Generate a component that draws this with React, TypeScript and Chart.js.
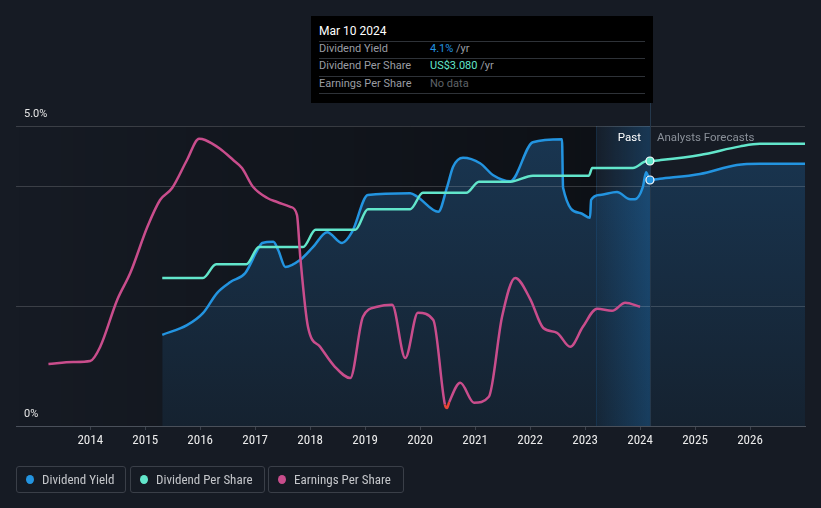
import React, { useEffect, useRef } from "react";
import { Chart, registerables } from "chart.js";

Chart.register(...registerables);

// ---------- data ----------
const tickYears = [2014, 2015, 2016, 2017, 2018, 2019, 2020, 2021, 2022, 2023, 2024, 2025, 2026];

const yieldYears = [2015.31, 2015.76, 2016.05, 2016.31, 2016.55, 2016.82, 2017.04, 2017.13, 2017.33, 2017.42, 2017.55, 2017.82, 2018.05, 2018.31, 2018.58, 2018.76, 2019.05, 2019.82, 2019.95, 2020.33, 2020.49, 2020.6, 2020.78, 2021.09, 2021.33, 2021.64, 2022.05, 2022.58, 2022.6, 2022.91, 2023.09, 2023.11, 2023.27, 2023.58, 2023.82, 2023.91, 2024.05, 2024.11, 2024.18, 2024.36, 2025.09, 2025.76, 2026.18, 2027.0];
const yieldValues = [1.52, 1.68, 1.88, 2.22, 2.40, 2.55, 2.93, 3.05, 3.07, 2.93, 2.65, 2.77, 2.98, 3.23, 3.05, 3.23, 3.85, 3.88, 3.82, 3.57, 3.98, 4.32, 4.47, 4.38, 4.18, 4.08, 4.73, 4.78, 3.97, 3.55, 3.47, 3.77, 3.85, 3.9, 3.78, 3.78, 3.98, 4.23, 4.1, 4.12, 4.2, 4.35, 4.37, 4.37];

const dpsYears = [2015.31, 2016.05, 2016.29, 2016.84, 2017.07, 2017.87, 2018.1, 2018.82, 2019.05, 2019.82, 2020.05, 2020.84, 2021.07, 2021.64, 2022.05, 2023.07, 2023.13, 2023.87, 2024.13, 2024.18, 2024.36, 2025.09, 2025.82, 2026.18, 2027.0];
const dpsValues = [1.72, 1.72, 1.88, 1.88, 2.08, 2.08, 2.28, 2.28, 2.52, 2.52, 2.71, 2.71, 2.84, 2.84, 2.91, 2.91, 3.0, 3.0, 3.08, 3.08, 3.09, 3.15, 3.25, 3.28, 3.28];

const epsYears = [2013.24, 2013.69, 2014.0, 2014.18, 2014.49, 2014.73, 2015.04, 2015.27, 2015.49, 2015.76, 2015.98, 2016.09, 2016.36, 2016.6, 2016.76, 2016.96, 2017.22, 2017.4, 2017.64, 2017.76, 2017.82, 2017.96, 2018.18, 2018.45, 2018.73, 2018.96, 2019.22, 2019.49, 2019.73, 2019.96, 2020.24, 2020.45, 2020.49, 2020.53, 2020.73, 2020.98, 2021.25, 2021.49, 2021.73, 2022.0, 2022.24, 2022.49, 2022.73, 2022.96, 2023.22, 2023.49, 2023.73, 2024.0];
const epsValues = [1.05, 1.1, 1.125, 1.475, 2.65, 3.33, 4.48, 5.15, 5.45, 6.15, 6.68, 6.65, 6.43, 6.15, 5.95, 5.48, 5.2, 5.1, 4.98, 4.78, 3.73, 1.98, 1.48, 0.98, 0.7, 2.23, 2.48, 2.53, 1.2, 2.33, 2.15, 0.04, -0.05, 0.1, 0.58, 0.08, 0.23, 2.23, 3.2, 2.68, 1.95, 1.83, 1.48, 1.98, 2.43, 2.38, 2.58, 2.48];

const nowYear = 2024.18;
const pastBandStart = 2023.2;
const yieldGridValues = [5, 4, 2];

// ---------- styles ----------
const BG = "#161b24";
const BLUE = "#2394e0";
const TEAL = "#62e6cb";
const PINK = "#c94d8c";
const RED = "#e8443a";
const NARROW = '"Liberation Sans Narrow", "Roboto Condensed", Roboto, sans-serif';
const SANS = 'Roboto, "Noto Sans", sans-serif';

const bgPlugin = {
  id: "bgPlugin",
  beforeDatasetsDraw(chart: any) {
    const { ctx, chartArea, scales } = chart;
    const { left, top, bottom } = chartArea;
    const xb = scales.x.getPixelForValue(pastBandStart);
    ctx.save();
    const g = ctx.createLinearGradient(left, 0, xb, 0);
    g.addColorStop(0, "rgba(0,0,0,0)");
    g.addColorStop(1, "rgba(0,0,0,0.38)");
    ctx.fillStyle = g;
    ctx.fillRect(left, top, xb - left, bottom - top);
    ctx.restore();
  },
  beforeDatasetDraw(chart: any, args: any) {
    if (args.index !== 0) return;
    const { ctx, chartArea, scales } = chart;
    const { left, right, top, bottom } = chartArea;
    const xb = scales.x.getPixelForValue(pastBandStart);
    const xn = scales.x.getPixelForValue(nowYear);
    ctx.save();
    const g = ctx.createLinearGradient(xb, 0, xn, 0);
    g.addColorStop(0, "rgba(33,150,243,0.03)");
    g.addColorStop(1, "rgba(33,150,243,0.24)");
    ctx.fillStyle = g;
    ctx.fillRect(xb, top, xn - xb, bottom - top);
    ctx.strokeStyle = "rgba(33,150,243,0.12)";
    ctx.lineWidth = 1;
    ctx.beginPath();
    ctx.moveTo(Math.round(xb) + 0.5, top);
    ctx.lineTo(Math.round(xb) + 0.5, bottom);
    ctx.stroke();
    // gridlines
    ctx.strokeStyle = "rgba(255,255,255,0.16)";
    for (const v of yieldGridValues) {
      const y = Math.round(scales.yYield.getPixelForValue(v)) + 0.5;
      ctx.beginPath();
      ctx.moveTo(left, y);
      ctx.lineTo(right, y);
      ctx.stroke();
    }
    // now line
    ctx.strokeStyle = "#24384c";
    ctx.beginPath();
    ctx.moveTo(Math.round(xn) + 0.5, 103);
    ctx.lineTo(Math.round(xn) + 0.5, bottom);
    ctx.stroke();
    ctx.restore();
  },
  afterDatasetsDraw(chart: any) {
    const { ctx, chartArea, scales } = chart;
    const { left } = chartArea;
    const xn = scales.x.getPixelForValue(nowYear);
    ctx.save();
    ctx.font = "11px " + SANS;
    ctx.textBaseline = "middle";
    ctx.fillStyle = "#e6e6e6";
    ctx.textAlign = "left";
    ctx.fillText("5.0%", left + 8, scales.yYield.getPixelForValue(5) - 12);
    ctx.fillText("0%", left + 8, scales.yYield.getPixelForValue(0) - 12);
    ctx.font = "11.5px " + SANS;
    ctx.textAlign = "right";
    ctx.fillStyle = "#ffffff";
    ctx.fillText("Past", xn - 9, 138);
    ctx.textAlign = "left";
    ctx.fillStyle = "#8a9099";
    ctx.fillText("Analysts Forecasts", xn + 7, 138);
    ctx.restore();
  },
};

function toXY(xs: number[], ys: number[]) {
  return xs.map((x, i) => ({ x, y: ys[i] }));
}

export default function App() {
  const canvasRef = useRef<HTMLCanvasElement | null>(null);

  useEffect(() => {
    const canvas = canvasRef.current;
    if (!canvas) return;
    const ctx = canvas.getContext("2d")!;
    const fillGrad = ctx.createLinearGradient(0, 126, 0, 426);
    fillGrad.addColorStop(0, "rgb(25,54,82)");
    fillGrad.addColorStop(1, "rgb(21,34,48)");
    const nowIdxYield = yieldYears.indexOf(nowYear);
    const nowIdxDps = dpsYears.indexOf(nowYear);

    const chart = new Chart(canvas, {
      type: "line",
      data: {
        datasets: [
          {
            label: "Dividend Yield",
            data: toXY(yieldYears, yieldValues),
            yAxisID: "yYield",
            borderColor: BLUE,
            borderWidth: 2.5,
            backgroundColor: fillGrad,
            fill: "origin",
            cubicInterpolationMode: "monotone",
            pointRadius: (c: any) => (c.dataIndex === nowIdxYield ? 4 : 0),
            pointBackgroundColor: BLUE,
            pointBorderColor: "#ffffff",
            pointBorderWidth: 1.2,
            order: 3,
          },
          {
            label: "Dividend Per Share",
            data: toXY(dpsYears, dpsValues),
            yAxisID: "yDps",
            borderColor: TEAL,
            borderWidth: 2.5,
            fill: false,
            cubicInterpolationMode: "monotone",
            pointRadius: (c: any) => (c.dataIndex === nowIdxDps ? 4 : 0),
            pointBackgroundColor: TEAL,
            pointBorderColor: "#ffffff",
            pointBorderWidth: 1.2,
            order: 2,
          },
          {
            label: "Earnings Per Share",
            data: toXY(epsYears, epsValues),
            yAxisID: "yEps",
            borderColor: PINK,
            borderWidth: 2.5,
            fill: false,
            cubicInterpolationMode: "monotone",
            pointRadius: 0,
            segment: {
              borderColor: (c: any) => (c.p0.parsed.y < 0 || c.p1.parsed.y < 0 ? RED : PINK),
            },
            order: 1,
          },
        ],
      },
      options: {
        responsive: false,
        animation: false,
        events: [],
        layout: { padding: { left: 16, right: 16, top: 126, bottom: 52 } },
        plugins: { legend: { display: false }, tooltip: { enabled: false } },
        scales: {
          x: {
            type: "linear",
            min: 2012.65,
            max: 2027.0,
            afterBuildTicks: (s: any) => {
              s.ticks = tickYears.map((v) => ({ value: v }));
            },
            afterFit: (s: any) => {
              s.height = 30;
            },
            ticks: {
              autoSkip: false,
              maxRotation: 0,
              padding: 3,
              color: "#ececec",
              font: { family: NARROW, size: 13 },
              callback: (v: any) => String(v),
            },
            grid: { drawOnChartArea: false, drawTicks: true, tickLength: 4, color: "#3c424c" },
            border: { color: "#4a505a", width: 1 },
          },
          yYield: { type: "linear", display: false, min: 0, max: 5 },
          yDps: { type: "linear", display: false, min: 0, max: 3.487 },
          yEps: { type: "linear", display: false, min: -0.5, max: 7.0 },
        },
      },
      plugins: [bgPlugin],
    } as any);
    return () => chart.destroy();
  }, []);

  const tipLabel: React.CSSProperties = { position: "absolute", left: 8, fontSize: 11, color: "#9a9da3", lineHeight: "14px" };
  const tipValue: React.CSSProperties = { position: "absolute", left: 119, fontSize: 11, lineHeight: "14px" };
  const sep = (top: number): React.CSSProperties => ({ position: "absolute", left: 8, width: 326, top, height: 1, background: "#2e3238" });

  const legendItems = [
    { label: "Dividend Yield", color: BLUE, left: 16, width: 110 },
    { label: "Dividend Per Share", color: TEAL, left: 130, width: 135 },
    { label: "Earnings Per Share", color: PINK, left: 268, width: 136 },
  ];

  return (
    <div style={{ position: "fixed", left: 0, top: 0, width: 821, height: 508, background: BG, overflow: "hidden" }}>
      <canvas ref={canvasRef} width={821} height={508} style={{ position: "absolute", left: 0, top: 0, display: "block" }} />
      <div style={{ position: "absolute", left: 311, top: 16, width: 342, height: 87, background: "#000", fontFamily: SANS }}>
        <div style={{ position: "absolute", left: 8, top: 8, fontSize: 12, color: "#ffffff", lineHeight: "14px" }}>Mar 10 2024</div>
        <div style={sep(25)} />
        <div style={{ ...tipLabel, top: 26 }}>Dividend Yield</div>
        <div style={{ ...tipValue, top: 26 }}><span style={{ color: BLUE }}>4.1%</span><span style={{ color: "#9a9da3" }}> /yr</span></div>
        <div style={sep(42)} />
        <div style={{ ...tipLabel, top: 43 }}>Dividend Per Share</div>
        <div style={{ ...tipValue, top: 43 }}><span style={{ color: TEAL }}>US$3.080</span><span style={{ color: "#9a9da3" }}> /yr</span></div>
        <div style={sep(60)} />
        <div style={{ ...tipLabel, top: 61 }}>Earnings Per Share</div>
        <div style={{ ...tipValue, top: 61, color: "#5f6368" }}>No data</div>
        <div style={sep(77)} />
      </div>
      {legendItems.map((it) => (
        <div
          key={it.label}
          style={{
            position: "absolute",
            left: it.left,
            top: 466,
            width: it.width,
            height: 27,
            boxSizing: "border-box",
            border: "1px solid #3a3f48",
            borderRadius: 3,
            fontFamily: NARROW,
            fontSize: 13,
            color: "#c4c6ca",
            display: "flex",
            alignItems: "center",
          }}
        >
          <span style={{ display: "inline-block", width: 8, height: 9, borderRadius: "50%", background: it.color, marginLeft: 9, marginRight: 8 }} />
          <span>{it.label}</span>
        </div>
      ))}
    </div>
  );
}
